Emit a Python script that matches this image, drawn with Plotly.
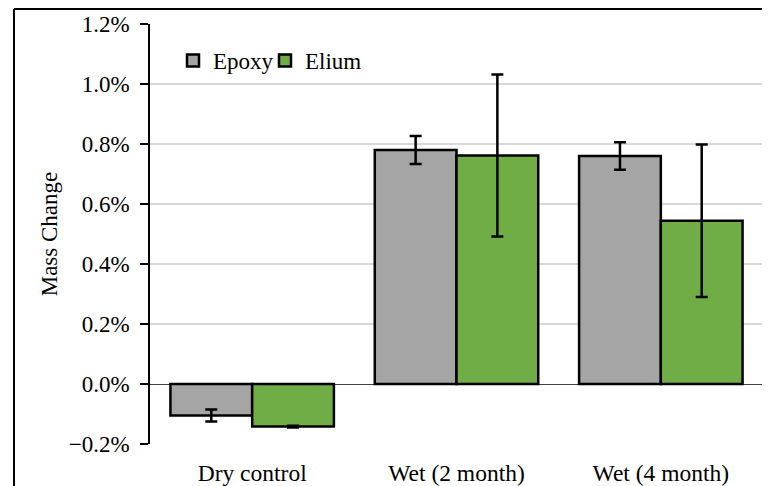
import plotly.graph_objects as go

categories = ["Dry control", "Wet (2 month)", "Wet (4 month)"]
epoxy = [-0.00105, 0.0078, 0.0076]
epoxy_err = [0.0002, 0.00047, 0.00046]
elium = [-0.00142, 0.00762, 0.00544]
elium_err = [0.00003, 0.0027, 0.00254]
y_ticks = [-0.002, 0.0, 0.002, 0.004, 0.006, 0.008, 0.010, 0.012]

FONT = "Liberation Serif"

fig = go.Figure()
fig.add_trace(go.Bar(
    name="Epoxy", x=categories, y=epoxy, legend="legend",
    marker=dict(color="#a5a5a5", line=dict(color="black", width=2.5)),
    error_y=dict(type="data", array=epoxy_err, color="black", thickness=2.5, width=6),
))
fig.add_trace(go.Bar(
    name="Elium", x=categories, y=elium, legend="legend2",
    marker=dict(color="#70ad47", line=dict(color="black", width=2.5)),
    error_y=dict(type="data", array=elium_err, color="black", thickness=2.5, width=6),
))

# page has an 8px body margin; figure sized/offset to compensate
W, H = 762, 478
L, R, T, B = 142, 7, 16, 42
pw, ph = W - L - R, H - T - B

leg_common = dict(orientation="h", xanchor="left", yanchor="top",
                  font=dict(family=FONT, size=23), bgcolor="rgba(0,0,0,0)",
                  itemwidth=30, y=(H - B - 31) / ph)

fig.update_layout(
    width=W, height=H,
    margin=dict(l=L, r=R, t=T, b=B, autoexpand=False),
    paper_bgcolor="white", plot_bgcolor="white",
    barmode="group", bargap=0.2, bargroupgap=0,
    font=dict(family=FONT, size=23, color="black"),
    showlegend=True,
    legend=dict(x=(165 - L) / pw, **leg_common),
    legend2=dict(x=(257 - L) / pw, **leg_common),
    xaxis=dict(showline=False, showgrid=False, ticks="",
               tickfont=dict(family=FONT, size=23.5), ticklabelstandoff=12),
    yaxis=dict(range=[-0.002, 0.012], tickvals=y_ticks, tickformat=".1%",
               showgrid=True, gridcolor="#d9d9d9", gridwidth=1.5,
               zeroline=True, zerolinecolor="#404040", zerolinewidth=1,
               showline=True, linecolor="black", linewidth=1.5,
               ticks="outside", ticklen=8, tickcolor="black", tickwidth=1.5,
               tickfont=dict(family=FONT, size=23), ticklabelstandoff=6,
               title=dict(text="Mass Change", font=dict(family=FONT, size=23), standoff=5)),
)

# outer frame (left and top edges visible)
fx = (6 - L) / pw
fy = (H - B - 1) / ph
fig.add_shape(type="line", xref="paper", yref="paper", x0=fx, x1=fx, y0=fy, y1=-0.3,
              line=dict(color="black", width=2))
fig.add_shape(type="line", xref="paper", yref="paper", x0=fx, x1=1.05, y0=fy, y1=fy,
              line=dict(color="black", width=2))

fig.write_html("out.html")
